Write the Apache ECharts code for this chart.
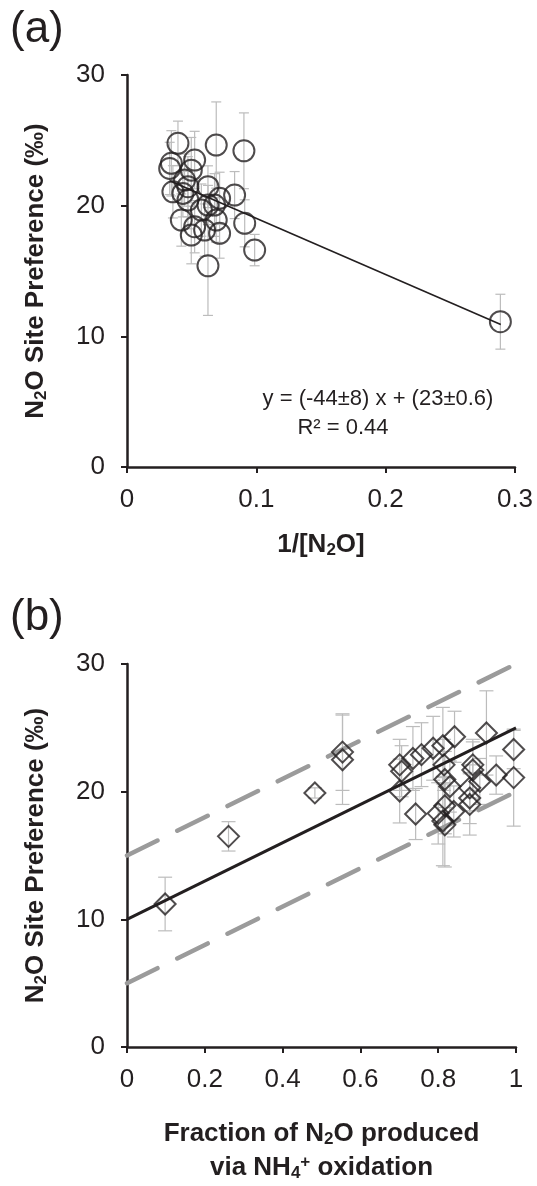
<!DOCTYPE html>
<html><head><meta charset="utf-8">
<script src="https://cdn.jsdelivr.net/npm/echarts@6/dist/echarts.min.js"></script>
<style>html,body{margin:0;padding:0;background:#fff}#c{width:537px;height:1186px}</style>
</head><body><div id="c"></div>
<script>
// Panel (a): 1/[N2O] vs site preference
const aX = [0.0394,0.069,0.0904,0.0343,0.033,0.0523,0.0497,0.0445,0.0471,0.0355,0.0432,0.0626,0.0832,0.0716,0.0626,0.0677,0.0575,0.0471,0.042,0.0523,0.069,0.091,0.0497,0.06,0.0716,0.0987,0.0626,0.2887];
const aY = [24.77,24.64,24.2,23.24,22.85,23.49,22.72,21.96,21.45,21.06,20.94,21.45,20.81,20.56,20.05,20.05,19.66,20.43,18.9,18.39,18.9,18.65,17.75,18.13,17.88,16.6,15.4,11.12];
const aErr = [1.7,3.3,2.9,2.5,2.0,2.2,2.5,2.0,2.3,2.0,1.8,1.6,1.8,2.0,1.5,2.4,2.0,2.2,2.0,2.0,1.7,1.8,2.2,2.0,1.9,1.2,3.8,2.1];
const aTrend = [[0.033,21.9],[0.289,10.9]];
// Panel (b): fraction via NH4+ oxidation vs site preference
const bX = [0.098,0.261,0.483,0.554,0.554,0.701,0.706,0.701,0.735,0.757,0.787,0.812,0.842,0.924,0.994,0.994,0.949,0.889,0.889,0.815,0.817,0.83,0.881,0.907,0.881,0.881,0.742,0.800,0.817,0.840,0.812,0.817];
const bY = [11.2,16.5,19.9,23.1,22.5,22.1,21.6,20.05,22.6,22.9,23.4,23.6,24.3,24.6,23.3,21.1,21.3,22.1,21.7,22.1,20.95,20.4,20.3,20.8,19.5,19.0,18.25,18.3,18.9,18.45,17.7,17.4];
const bErr = [2.1,1.15,0.4,3.0,3.5,2.0,2.0,2.5,2.5,2.5,2.5,3.0,2.0,3.3,1.5,3.8,1.5,2.0,2.2,2.0,2.2,2.0,1.8,1.8,2.0,2.4,2.0,2.4,2.2,2.0,3.5,3.3];
const bFit = [[0,10],[1,25]];
const bUpper = [[0,15],[1,30]];
const bLower = [[0,5],[1,20]];
const yTicks = [0,10,20,30];

const INK = '#231f20';
const FONT = '"Liberation Sans", Arial, sans-serif';
const chart = echarts.init(document.getElementById('c'), null, {renderer:'canvas'});

function errSeries(xi, yi, xs, ys, es, cap){
  return {
    type:'custom', xAxisIndex:xi, yAxisIndex:yi, z:1,
    data: xs.map((x,i)=>[x, ys[i], es[i]]),
    renderItem:(params, api)=>{
      const x = api.value(0), y = api.value(1), e = api.value(2);
      const top = api.coord([x, y+e]), bot = api.coord([x, y-e]);
      const st = {stroke:'#bcbcbc', lineWidth:1.2};
      return {type:'group', children:[
        {type:'line', shape:{x1:top[0],y1:top[1],x2:bot[0],y2:bot[1]}, style:st},
        {type:'line', shape:{x1:top[0]-cap,y1:top[1],x2:top[0]+cap,y2:top[1]}, style:st},
        {type:'line', shape:{x1:bot[0]-cap,y1:bot[1],x2:bot[0]+cap,y2:bot[1]}, style:st}
      ]};
    }
  };
}

const rich = {
  b:{fontFamily:FONT, fontWeight:'bold', fontSize:26, color:INK},
  sub:{fontFamily:FONT, fontWeight:'bold', fontSize:17, color:INK, padding:[11,0,0,0]},
  sup:{fontFamily:FONT, fontWeight:'bold', fontSize:17, color:INK, padding:[0,0,12,0]}
};
function axisCommon(){
  return {
    axisLine:{show:true, onZero:false, lineStyle:{color:INK, width:2.5}},
    axisTick:{show:true, inside:false, length:6, lineStyle:{color:INK, width:2}},
    splitLine:{show:false}
  };
}
const tickLabel = {color:INK, fontFamily:FONT, fontSize:26, margin:20};
const yName = '{b|N}{sub|2}{b|O Site Preference (‰)}';

chart.setOption({
  animation:false,
  backgroundColor:'#fff',
  grid:[
    {left:127, right:22, top:75, height:392},
    {left:127, right:21, top:664, height:390}
  ],
  xAxis:[
    Object.assign(axisCommon(), {gridIndex:0, type:'value', min:0, max:0.3, interval:0.1,
      name:'{b|1/[N}{sub|2}{b|O]}', nameLocation:'middle', nameGap:64, nameTextStyle:{rich:rich},
      axisLabel:Object.assign({}, tickLabel, {formatter:v=>String(+v.toFixed(1))})}),
    Object.assign(axisCommon(), {gridIndex:1, type:'value', min:0, max:1, interval:0.2,
      name:'{b|Fraction of N}{sub|2}{b|O produced}\n{b|via NH}{sub|4}{sup|+}{b| oxidation}', nameLocation:'middle', nameGap:70,
      nameTextStyle:{rich:rich, lineHeight:34},
      axisLabel:Object.assign({}, tickLabel, {formatter:v=>String(+v.toFixed(1))})})
  ],
  yAxis:[
    Object.assign(axisCommon(), {gridIndex:0, type:'value', min:yTicks[0], max:yTicks[yTicks.length-1], interval:10,
      name:yName, nameLocation:'middle', nameGap:77, nameTextStyle:{rich:rich},
      axisLabel:Object.assign({}, tickLabel, {margin:22})}),
    Object.assign(axisCommon(), {gridIndex:1, type:'value', min:yTicks[0], max:yTicks[yTicks.length-1], interval:10,
      name:yName, nameLocation:'middle', nameGap:77, nameTextStyle:{rich:rich},
      axisLabel:Object.assign({}, tickLabel, {margin:22})})
  ],
  graphic:[
    {type:'text', left:10, top:8, style:{text:'(a)', font:'44px "Liberation Sans", Arial', fill:INK}},
    {type:'text', left:10, top:596, style:{text:'(b)', font:'44px "Liberation Sans", Arial', fill:INK}},
    {type:'text', x:378, y:399, style:{text:'y = (-44±8) x + (23±0.6)', font:'22px "Liberation Sans", Arial', fill:INK, align:'center', verticalAlign:'middle'}},
    {type:'text', x:343, y:428, style:{text:'R² = 0.44', font:'22px "Liberation Sans", Arial', fill:INK, align:'center', verticalAlign:'middle'}}
  ],
  series:[
    errSeries(0,0,aX,aY,aErr,5),
    {type:'line', xAxisIndex:0, yAxisIndex:0, data:aTrend, symbol:'none', z:3,
      lineStyle:{color:INK, width:1.6}},
    {type:'scatter', xAxisIndex:0, yAxisIndex:0, data:aX.map((x,i)=>[x,aY[i]]), symbol:'circle', symbolSize:21, z:4,
      itemStyle:{color:'rgba(0,0,0,0)', borderColor:INK, borderWidth:2}},
    errSeries(1,1,bX,bY,bErr,7),
    {type:'line', xAxisIndex:1, yAxisIndex:1, data:bUpper, symbol:'none', z:2,
      lineStyle:{color:'#9b9b9b', width:4.5, type:[34,22], cap:'round'}},
    {type:'line', xAxisIndex:1, yAxisIndex:1, data:bLower, symbol:'none', z:2,
      lineStyle:{color:'#9b9b9b', width:4.5, type:[34,22], cap:'round'}},
    {type:'line', xAxisIndex:1, yAxisIndex:1, data:bFit, symbol:'none', z:3,
      lineStyle:{color:INK, width:3}},
    {type:'scatter', xAxisIndex:1, yAxisIndex:1, data:bX.map((x,i)=>[x,bY[i]]), symbol:'diamond', symbolSize:[21,21], z:4,
      itemStyle:{color:'rgba(0,0,0,0)', borderColor:INK, borderWidth:2}}
  ]
});
</script></body></html>
